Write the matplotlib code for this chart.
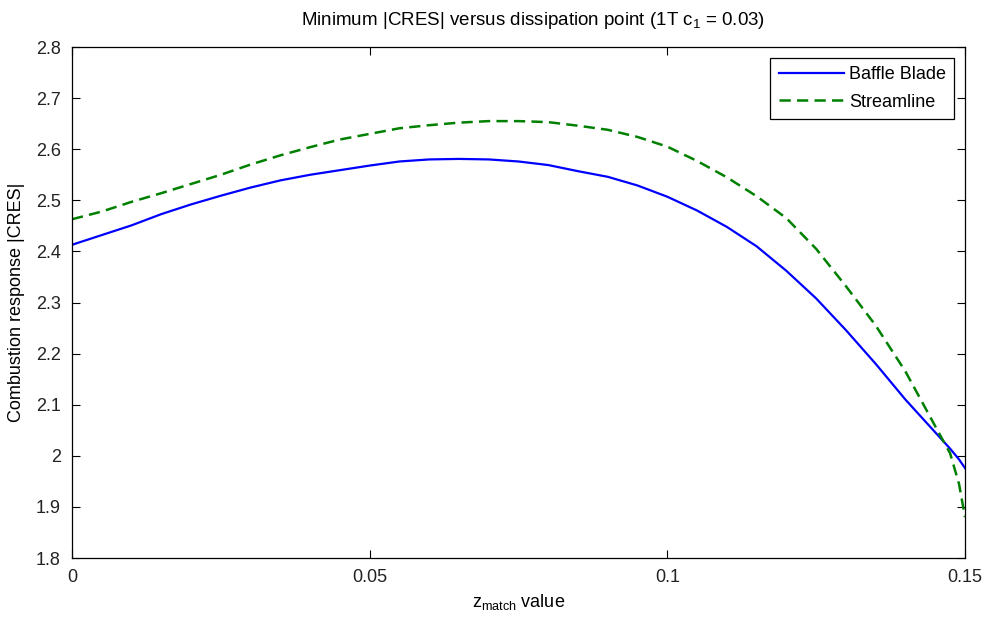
import matplotlib
matplotlib.use("Agg")
import matplotlib.pyplot as plt
from matplotlib.ticker import FuncFormatter

plt.rcParams['font.family'] = ['Liberation Sans', 'DejaVu Sans']
plt.rcParams['mathtext.fontset'] = 'custom'
plt.rcParams['mathtext.rm'] = 'Liberation Sans'
plt.rcParams['mathtext.it'] = 'Liberation Sans'

z_match = [0.0, 0.005, 0.01, 0.015, 0.02, 0.025, 0.03, 0.035, 0.04, 0.045,
           0.05, 0.055, 0.06, 0.065, 0.07, 0.075, 0.08, 0.085, 0.09, 0.095,
           0.1, 0.105, 0.11, 0.115, 0.12, 0.125, 0.13, 0.135, 0.14, 0.145,
           0.1475, 0.149, 0.15]
baffle_blade = [2.413, 2.432, 2.451, 2.473, 2.492, 2.509, 2.525, 2.539, 2.550, 2.559,
                2.568, 2.576, 2.580, 2.581, 2.580, 2.576, 2.569, 2.557, 2.546, 2.529,
                2.507, 2.480, 2.448, 2.410, 2.362, 2.308, 2.246, 2.180, 2.110, 2.046,
                2.014, 1.993, 1.976]
streamline = [2.463, 2.478, 2.497, 2.514, 2.532, 2.550, 2.570, 2.588, 2.604, 2.619,
              2.630, 2.641, 2.647, 2.652, 2.655, 2.655, 2.653, 2.646, 2.638, 2.624,
              2.605, 2.577, 2.545, 2.508, 2.465, 2.405, 2.332, 2.255, 2.165, 2.058,
              2.005, 1.945, 1.880]

fig = plt.figure(figsize=(9.88, 6.17), dpi=100)
ax = fig.add_axes([0.0729, 0.0956, 0.9038, 0.8282])

ax.plot(z_match, baffle_blade, color='#0000ff', lw=1.6, label='Baffle Blade')
ax.plot(z_match, streamline, color='#008000', lw=1.8, ls=(0, (4.5, 2.5)), label='Streamline')

ax.set_xlim(0, 0.15)
ax.set_ylim(1.8, 2.8)
ax.set_xticks([0, 0.05, 0.1, 0.15])
ax.set_yticks([1.8, 1.9, 2.0, 2.1, 2.2, 2.3, 2.4, 2.5, 2.6, 2.7, 2.8])
fmt = FuncFormatter(lambda v, p: '%g' % round(v, 4))
ax.xaxis.set_major_formatter(fmt)
ax.yaxis.set_major_formatter(fmt)
ax.tick_params(direction='in', top=True, right=True, length=6, width=0.8,
               labelsize=13, pad=8, labelcolor='#222222')
for s in ax.spines.values():
    s.set_linewidth(0.9)
    s.set_color('black')

ax.set_title(r'Minimum |CRES| versus dissipation point (1T c$_1$ = 0.03)', fontsize=13.5,
             pad=16, x=0.516)
ax.set_xlabel(r'z$_{\mathrm{match}}$ value', fontsize=13, labelpad=4)
ax.set_ylabel('Combustion response |CRES|', fontsize=13, labelpad=8)

leg = ax.legend(loc='upper right', fontsize=13, fancybox=False, edgecolor='black',
                framealpha=1, handlelength=3.6, borderaxespad=0.6, borderpad=0.45,
                labelspacing=0.6, handletextpad=0.3)
leg.get_frame().set_linewidth(0.9)

fig.savefig('out.png', dpi=100)
